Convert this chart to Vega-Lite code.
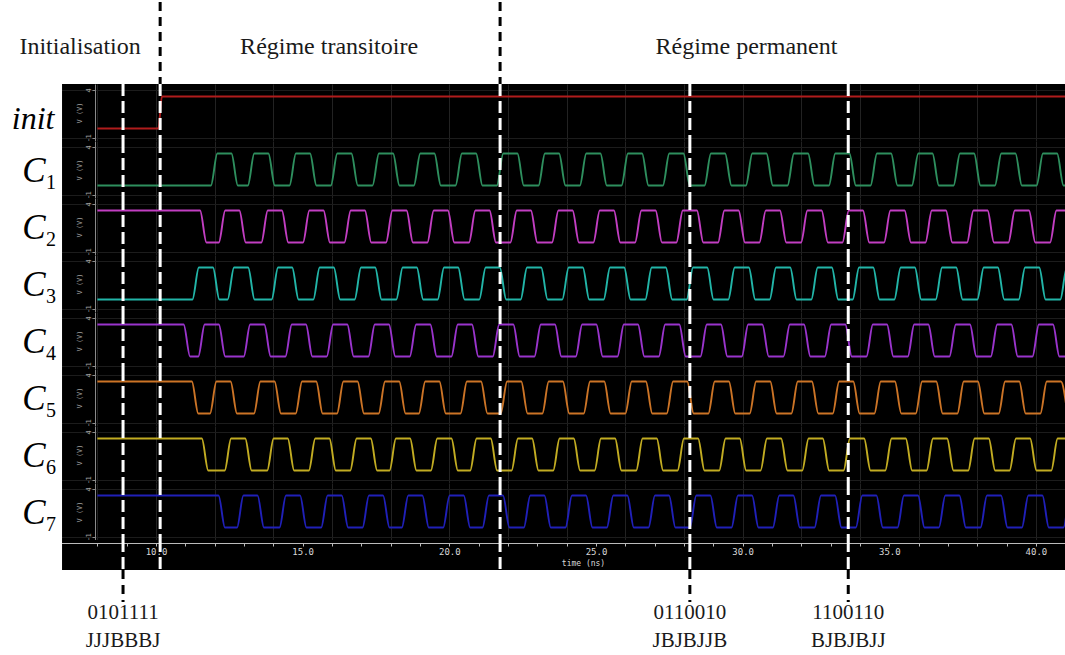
{
  "$schema": "https://vega.github.io/schema/vega-lite/v6.json",
  "padding": 0,
  "background": "white",
  "spacing": 0,
  "bounds": "flush",
  "config": {"view": {"stroke": null}, "font": "Liberation Serif, Times New Roman, serif"},
  "datasets": {
    "cuts": [{"t": 8.875}, {"t": 10.14}, {"t": 21.73}, {"t": 28.2}, {"t": 33.6}],
    "phases": [{"t": 10.14}, {"t": 21.73}],
    "regions": [{"label": "Initialisation", "t": 7.41}, {"label": "Régime transitoire", "t": 15.9}, {"label": "Régime permanent", "t": 30.13}],
    "codes": [{"t": 8.875, "code": "0101111", "tokens": "JJJBBBJ"}, {"t": 28.2, "code": "0110010", "tokens": "JBJBJJB"}, {"t": 33.6, "code": "1100110", "tokens": "BJBJBJJ"}]
  },
  "vconcat": [
    {
      "width": 1065, "height": 82,
      "layer": [
        {"data": {"name": "phases"}, "mark": {"type": "rule", "color": "black", "strokeWidth": 3, "strokeDash": [9, 6]},
         "encoding": {"x": {"field": "t", "type": "quantitative", "scale": {"domain": [4.68, 40.99], "nice": false, "zero": false}, "axis": null}}},
        {"data": {"name": "regions"}, "mark": {"type": "text", "font": "Liberation Serif, Times New Roman, serif", "fontSize": 24, "color": "#1a1a1a", "baseline": "alphabetic", "dy": 11},
         "encoding": {"x": {"field": "t", "type": "quantitative", "axis": null}, "text": {"field": "label"}}}
      ]
    },
    {
      "width": 1065, "height": 57, "view": {"fill": "black", "stroke": null},
      "layer": [
        {"data": {"values": [{}]}, "mark": {"type": "rect", "color": "white"},
         "encoding": {"x": {"datum": 4.68, "type": "quantitative"}, "x2": {"datum": 6.795}, "y": {"datum": 4.6, "type": "quantitative"}, "y2": {"datum": -1.3}}},
        {"data": {"values": "t,v\n8,0\n10.08,0\n10.2,3.3\n41.5,3.3", "format": {"type": "csv", "parse": {"t": "number", "v": "number"}}},
         "mark": {"type": "line", "color": "#b01c1c", "strokeWidth": 1.9, "interpolate": "monotone", "clip": true},
         "encoding": {
           "x": {"field": "t", "type": "quantitative", "title": null, "scale": {"domain": [4.68, 40.99], "nice": false, "zero": false}, "axis": {"values": [8,9,10,11,12,13,14,15,16,17,18,19,20,21,22,23,24,25,26,27,28,29,30,31,32,33,34,35,36,37,38,39,40], "grid": true, "gridColor": "#222222", "labels": false, "ticks": false, "domain": false, "title": null}},
           "y": {"field": "v", "type": "quantitative", "title": "V (V)", "scale": {"domain": [-1.3, 4.6], "nice": false, "zero": false}, "axis": {"orient": "left", "offset": -95, "values": [-1, 0, 1, 2, 3, 4], "grid": true, "gridColor": "#1c1c1c", "domainColor": "#8a8a8a", "tickColor": "#8a8a8a", "tickSize": 3, "labelColor": "#a0a0a0", "labelFontSize": 7, "labelFont": "DejaVu Sans Mono", "labelAngle": -90, "labelPadding": 1, "labelFlush": false, "labelOverlap": false, "title": "V (V)", "titleColor": "#a0a0a0", "titleFontSize": 7, "titleFont": "DejaVu Sans Mono", "titleFontWeight": "normal", "titlePadding": 2}}
         }},
        {"data": {"name": "cuts"}, "mark": {"type": "rule", "color": "white", "strokeWidth": 3, "strokeDash": [12, 5]},
         "encoding": {"x": {"field": "t", "type": "quantitative", "title": null}, "y": {"datum": 4.6}, "y2": {"datum": -1.3}}},
        {"data": {"values": [{"n": "init"}]}, "mark": {"type": "text", "font": "Liberation Serif, Times New Roman, serif", "fontStyle": "italic", "fontSize": 32, "baseline": "alphabetic", "dy": 16, "color": "black"},
         "encoding": {"x": {"datum": 5.81}, "text": {"field": "n"}}}
      ]
    },
    {
      "width": 1065, "height": 57, "view": {"fill": "black", "stroke": null},
      "layer": [
        {"data": {"values": [{}]}, "mark": {"type": "rect", "color": "white"},
         "encoding": {"x": {"datum": 4.68, "type": "quantitative"}, "x2": {"datum": 6.795}, "y": {"datum": 4.6, "type": "quantitative"}, "y2": {"datum": -1.3}}},
        {"data": {"values": "t,v\n8,0\n11.87,0\n12.09,3.3\n12.57,3.3\n12.79,0\n13.13,0\n13.35,3.3\n13.83,3.3\n14.05,0\n14.55,0\n14.77,3.3\n15.25,3.3\n15.47,0\n15.96,0\n16.18,3.3\n16.66,3.3\n16.88,0\n17.38,0\n17.6,3.3\n18.08,3.3\n18.3,0\n18.79,0\n19.01,3.3\n19.49,3.3\n19.71,0\n20.21,0\n20.43,3.3\n20.91,3.3\n21.13,0\n21.62,0\n21.84,3.3\n22.32,3.3\n22.54,0\n23.04,0\n23.26,3.3\n23.74,3.3\n23.96,0\n24.45,0\n24.67,3.3\n25.15,3.3\n25.37,0\n25.87,0\n26.09,3.3\n26.57,3.3\n26.79,0\n27.28,0\n27.5,3.3\n27.98,3.3\n28.2,0\n28.7,0\n28.92,3.3\n29.4,3.3\n29.62,0\n30.11,0\n30.33,3.3\n30.81,3.3\n31.03,0\n31.53,0\n31.75,3.3\n32.23,3.3\n32.45,0\n32.94,0\n33.16,3.3\n33.64,3.3\n33.86,0\n34.36,0\n34.58,3.3\n35.06,3.3\n35.28,0\n35.77,0\n35.99,3.3\n36.47,3.3\n36.69,0\n37.19,0\n37.41,3.3\n37.89,3.3\n38.11,0\n38.6,0\n38.82,3.3\n39.3,3.3\n39.52,0\n40.02,0\n40.24,3.3\n40.72,3.3\n40.94,0\n41.5,0", "format": {"type": "csv", "parse": {"t": "number", "v": "number"}}},
         "mark": {"type": "line", "color": "#2e8f5e", "strokeWidth": 1.9, "interpolate": "monotone", "clip": true},
         "encoding": {
           "x": {"field": "t", "type": "quantitative", "title": null, "scale": {"domain": [4.68, 40.99], "nice": false, "zero": false}, "axis": {"values": [8,9,10,11,12,13,14,15,16,17,18,19,20,21,22,23,24,25,26,27,28,29,30,31,32,33,34,35,36,37,38,39,40], "grid": true, "gridColor": "#222222", "labels": false, "ticks": false, "domain": false, "title": null}},
           "y": {"field": "v", "type": "quantitative", "title": "V (V)", "scale": {"domain": [-1.3, 4.6], "nice": false, "zero": false}, "axis": {"orient": "left", "offset": -95, "values": [-1, 0, 1, 2, 3, 4], "grid": true, "gridColor": "#1c1c1c", "domainColor": "#8a8a8a", "tickColor": "#8a8a8a", "tickSize": 3, "labelColor": "#a0a0a0", "labelFontSize": 7, "labelFont": "DejaVu Sans Mono", "labelAngle": -90, "labelPadding": 1, "labelFlush": false, "labelOverlap": false, "title": "V (V)", "titleColor": "#a0a0a0", "titleFontSize": 7, "titleFont": "DejaVu Sans Mono", "titleFontWeight": "normal", "titlePadding": 2}}
         }},
        {"data": {"name": "cuts"}, "mark": {"type": "rule", "color": "white", "strokeWidth": 3, "strokeDash": [12, 5]},
         "encoding": {"x": {"field": "t", "type": "quantitative", "title": null}, "y": {"datum": 4.6}, "y2": {"datum": -1.3}}},
        {"data": {"values": [{"n": "C", "s": "1"}]}, "mark": {"type": "text", "font": "Liberation Serif, Times New Roman, serif", "fontStyle": "italic", "fontSize": 35, "baseline": "alphabetic", "dy": 12, "color": "black"},
         "encoding": {"x": {"datum": 5.84}, "text": {"field": "n"}}},
        {"data": {"values": [{"n": "C", "s": "1"}]}, "mark": {"type": "text", "font": "Liberation Serif, Times New Roman, serif", "fontSize": 20, "baseline": "alphabetic", "dy": 19, "color": "black"},
         "encoding": {"x": {"datum": 6.42}, "text": {"field": "s"}}}
      ]
    },
    {
      "width": 1065, "height": 57, "view": {"fill": "black", "stroke": null},
      "layer": [
        {"data": {"values": [{}]}, "mark": {"type": "rect", "color": "white"},
         "encoding": {"x": {"datum": 4.68, "type": "quantitative"}, "x2": {"datum": 6.795}, "y": {"datum": 4.6, "type": "quantitative"}, "y2": {"datum": -1.3}}},
        {"data": {"values": "t,v\n8,3.3\n11.5,3.3\n11.72,0\n12.14,0\n12.36,3.3\n12.84,3.3\n13.06,0\n13.59,0\n13.81,3.3\n14.29,3.3\n14.51,0\n15.01,0\n15.23,3.3\n15.71,3.3\n15.93,0\n16.42,0\n16.64,3.3\n17.12,3.3\n17.34,0\n17.84,0\n18.06,3.3\n18.54,3.3\n18.76,0\n19.25,0\n19.47,3.3\n19.95,3.3\n20.17,0\n20.67,0\n20.89,3.3\n21.37,3.3\n21.59,0\n22.08,0\n22.3,3.3\n22.78,3.3\n23,0\n23.5,0\n23.72,3.3\n24.2,3.3\n24.42,0\n24.91,0\n25.13,3.3\n25.61,3.3\n25.83,0\n26.33,0\n26.55,3.3\n27.03,3.3\n27.25,0\n27.74,0\n27.96,3.3\n28.44,3.3\n28.66,0\n29.16,0\n29.38,3.3\n29.86,3.3\n30.08,0\n30.57,0\n30.79,3.3\n31.27,3.3\n31.49,0\n31.99,0\n32.21,3.3\n32.69,3.3\n32.91,0\n33.4,0\n33.62,3.3\n34.1,3.3\n34.32,0\n34.82,0\n35.04,3.3\n35.52,3.3\n35.74,0\n36.23,0\n36.45,3.3\n36.93,3.3\n37.15,0\n37.65,0\n37.87,3.3\n38.35,3.3\n38.57,0\n39.06,0\n39.28,3.3\n39.76,3.3\n39.98,0\n40.48,0\n40.7,3.3\n41.18,3.3\n41.4,0", "format": {"type": "csv", "parse": {"t": "number", "v": "number"}}},
         "mark": {"type": "line", "color": "#c23ec2", "strokeWidth": 1.9, "interpolate": "monotone", "clip": true},
         "encoding": {
           "x": {"field": "t", "type": "quantitative", "title": null, "scale": {"domain": [4.68, 40.99], "nice": false, "zero": false}, "axis": {"values": [8,9,10,11,12,13,14,15,16,17,18,19,20,21,22,23,24,25,26,27,28,29,30,31,32,33,34,35,36,37,38,39,40], "grid": true, "gridColor": "#222222", "labels": false, "ticks": false, "domain": false, "title": null}},
           "y": {"field": "v", "type": "quantitative", "title": "V (V)", "scale": {"domain": [-1.3, 4.6], "nice": false, "zero": false}, "axis": {"orient": "left", "offset": -95, "values": [-1, 0, 1, 2, 3, 4], "grid": true, "gridColor": "#1c1c1c", "domainColor": "#8a8a8a", "tickColor": "#8a8a8a", "tickSize": 3, "labelColor": "#a0a0a0", "labelFontSize": 7, "labelFont": "DejaVu Sans Mono", "labelAngle": -90, "labelPadding": 1, "labelFlush": false, "labelOverlap": false, "title": "V (V)", "titleColor": "#a0a0a0", "titleFontSize": 7, "titleFont": "DejaVu Sans Mono", "titleFontWeight": "normal", "titlePadding": 2}}
         }},
        {"data": {"name": "cuts"}, "mark": {"type": "rule", "color": "white", "strokeWidth": 3, "strokeDash": [12, 5]},
         "encoding": {"x": {"field": "t", "type": "quantitative", "title": null}, "y": {"datum": 4.6}, "y2": {"datum": -1.3}}},
        {"data": {"values": [{"n": "C", "s": "2"}]}, "mark": {"type": "text", "font": "Liberation Serif, Times New Roman, serif", "fontStyle": "italic", "fontSize": 35, "baseline": "alphabetic", "dy": 12, "color": "black"},
         "encoding": {"x": {"datum": 5.84}, "text": {"field": "n"}}},
        {"data": {"values": [{"n": "C", "s": "2"}]}, "mark": {"type": "text", "font": "Liberation Serif, Times New Roman, serif", "fontSize": 20, "baseline": "alphabetic", "dy": 19, "color": "black"},
         "encoding": {"x": {"datum": 6.42}, "text": {"field": "s"}}}
      ]
    },
    {
      "width": 1065, "height": 57, "view": {"fill": "black", "stroke": null},
      "layer": [
        {"data": {"values": [{}]}, "mark": {"type": "rect", "color": "white"},
         "encoding": {"x": {"datum": 4.68, "type": "quantitative"}, "x2": {"datum": 6.795}, "y": {"datum": 4.6, "type": "quantitative"}, "y2": {"datum": -1.3}}},
        {"data": {"values": "t,v\n8,0\n11.24,0\n11.46,3.3\n11.94,3.3\n12.16,0\n12.44,0\n12.66,3.3\n13.14,3.3\n13.36,0\n13.94,0\n14.16,3.3\n14.64,3.3\n14.86,0\n15.36,0\n15.58,3.3\n16.06,3.3\n16.28,0\n16.77,0\n16.99,3.3\n17.47,3.3\n17.69,0\n18.19,0\n18.41,3.3\n18.89,3.3\n19.11,0\n19.6,0\n19.82,3.3\n20.3,3.3\n20.52,0\n21.02,0\n21.24,3.3\n21.72,3.3\n21.94,0\n22.43,0\n22.65,3.3\n23.13,3.3\n23.35,0\n23.85,0\n24.07,3.3\n24.55,3.3\n24.77,0\n25.26,0\n25.48,3.3\n25.96,3.3\n26.18,0\n26.68,0\n26.9,3.3\n27.38,3.3\n27.6,0\n28.09,0\n28.31,3.3\n28.79,3.3\n29.01,0\n29.51,0\n29.73,3.3\n30.21,3.3\n30.43,0\n30.92,0\n31.14,3.3\n31.62,3.3\n31.84,0\n32.34,0\n32.56,3.3\n33.04,3.3\n33.26,0\n33.75,0\n33.97,3.3\n34.45,3.3\n34.67,0\n35.17,0\n35.39,3.3\n35.87,3.3\n36.09,0\n36.58,0\n36.8,3.3\n37.28,3.3\n37.5,0\n38,0\n38.22,3.3\n38.7,3.3\n38.92,0\n39.41,0\n39.63,3.3\n40.11,3.3\n40.33,0\n40.83,0\n41.05,3.3\n41.53,3.3", "format": {"type": "csv", "parse": {"t": "number", "v": "number"}}},
         "mark": {"type": "line", "color": "#22b5a8", "strokeWidth": 1.9, "interpolate": "monotone", "clip": true},
         "encoding": {
           "x": {"field": "t", "type": "quantitative", "title": null, "scale": {"domain": [4.68, 40.99], "nice": false, "zero": false}, "axis": {"values": [8,9,10,11,12,13,14,15,16,17,18,19,20,21,22,23,24,25,26,27,28,29,30,31,32,33,34,35,36,37,38,39,40], "grid": true, "gridColor": "#222222", "labels": false, "ticks": false, "domain": false, "title": null}},
           "y": {"field": "v", "type": "quantitative", "title": "V (V)", "scale": {"domain": [-1.3, 4.6], "nice": false, "zero": false}, "axis": {"orient": "left", "offset": -95, "values": [-1, 0, 1, 2, 3, 4], "grid": true, "gridColor": "#1c1c1c", "domainColor": "#8a8a8a", "tickColor": "#8a8a8a", "tickSize": 3, "labelColor": "#a0a0a0", "labelFontSize": 7, "labelFont": "DejaVu Sans Mono", "labelAngle": -90, "labelPadding": 1, "labelFlush": false, "labelOverlap": false, "title": "V (V)", "titleColor": "#a0a0a0", "titleFontSize": 7, "titleFont": "DejaVu Sans Mono", "titleFontWeight": "normal", "titlePadding": 2}}
         }},
        {"data": {"name": "cuts"}, "mark": {"type": "rule", "color": "white", "strokeWidth": 3, "strokeDash": [12, 5]},
         "encoding": {"x": {"field": "t", "type": "quantitative", "title": null}, "y": {"datum": 4.6}, "y2": {"datum": -1.3}}},
        {"data": {"values": [{"n": "C", "s": "3"}]}, "mark": {"type": "text", "font": "Liberation Serif, Times New Roman, serif", "fontStyle": "italic", "fontSize": 35, "baseline": "alphabetic", "dy": 12, "color": "black"},
         "encoding": {"x": {"datum": 5.84}, "text": {"field": "n"}}},
        {"data": {"values": [{"n": "C", "s": "3"}]}, "mark": {"type": "text", "font": "Liberation Serif, Times New Roman, serif", "fontSize": 20, "baseline": "alphabetic", "dy": 19, "color": "black"},
         "encoding": {"x": {"datum": 6.42}, "text": {"field": "s"}}}
      ]
    },
    {
      "width": 1065, "height": 57, "view": {"fill": "black", "stroke": null},
      "layer": [
        {"data": {"values": [{}]}, "mark": {"type": "rect", "color": "white"},
         "encoding": {"x": {"datum": 4.68, "type": "quantitative"}, "x2": {"datum": 6.795}, "y": {"datum": 4.6, "type": "quantitative"}, "y2": {"datum": -1.3}}},
        {"data": {"values": "t,v\n8,3.3\n10.94,3.3\n11.16,0\n11.44,0\n11.66,3.3\n12.14,3.3\n12.36,0\n12.99,0\n13.21,3.3\n13.69,3.3\n13.91,0\n14.41,0\n14.63,3.3\n15.11,3.3\n15.33,0\n15.82,0\n16.04,3.3\n16.52,3.3\n16.74,0\n17.24,0\n17.46,3.3\n17.94,3.3\n18.16,0\n18.65,0\n18.87,3.3\n19.35,3.3\n19.57,0\n20.07,0\n20.29,3.3\n20.77,3.3\n20.99,0\n21.48,0\n21.7,3.3\n22.18,3.3\n22.4,0\n22.9,0\n23.12,3.3\n23.6,3.3\n23.82,0\n24.31,0\n24.53,3.3\n25.01,3.3\n25.23,0\n25.73,0\n25.95,3.3\n26.43,3.3\n26.65,0\n27.14,0\n27.36,3.3\n27.84,3.3\n28.06,0\n28.56,0\n28.78,3.3\n29.26,3.3\n29.48,0\n29.97,0\n30.19,3.3\n30.67,3.3\n30.89,0\n31.39,0\n31.61,3.3\n32.09,3.3\n32.31,0\n32.8,0\n33.02,3.3\n33.5,3.3\n33.72,0\n34.22,0\n34.44,3.3\n34.92,3.3\n35.14,0\n35.63,0\n35.85,3.3\n36.33,3.3\n36.55,0\n37.05,0\n37.27,3.3\n37.75,3.3\n37.97,0\n38.46,0\n38.68,3.3\n39.16,3.3\n39.38,0\n39.88,0\n40.1,3.3\n40.58,3.3\n40.8,0\n41.29,0\n41.51,3.3", "format": {"type": "csv", "parse": {"t": "number", "v": "number"}}},
         "mark": {"type": "line", "color": "#9a34cc", "strokeWidth": 1.9, "interpolate": "monotone", "clip": true},
         "encoding": {
           "x": {"field": "t", "type": "quantitative", "title": null, "scale": {"domain": [4.68, 40.99], "nice": false, "zero": false}, "axis": {"values": [8,9,10,11,12,13,14,15,16,17,18,19,20,21,22,23,24,25,26,27,28,29,30,31,32,33,34,35,36,37,38,39,40], "grid": true, "gridColor": "#222222", "labels": false, "ticks": false, "domain": false, "title": null}},
           "y": {"field": "v", "type": "quantitative", "title": "V (V)", "scale": {"domain": [-1.3, 4.6], "nice": false, "zero": false}, "axis": {"orient": "left", "offset": -95, "values": [-1, 0, 1, 2, 3, 4], "grid": true, "gridColor": "#1c1c1c", "domainColor": "#8a8a8a", "tickColor": "#8a8a8a", "tickSize": 3, "labelColor": "#a0a0a0", "labelFontSize": 7, "labelFont": "DejaVu Sans Mono", "labelAngle": -90, "labelPadding": 1, "labelFlush": false, "labelOverlap": false, "title": "V (V)", "titleColor": "#a0a0a0", "titleFontSize": 7, "titleFont": "DejaVu Sans Mono", "titleFontWeight": "normal", "titlePadding": 2}}
         }},
        {"data": {"name": "cuts"}, "mark": {"type": "rule", "color": "white", "strokeWidth": 3, "strokeDash": [12, 5]},
         "encoding": {"x": {"field": "t", "type": "quantitative", "title": null}, "y": {"datum": 4.6}, "y2": {"datum": -1.3}}},
        {"data": {"values": [{"n": "C", "s": "4"}]}, "mark": {"type": "text", "font": "Liberation Serif, Times New Roman, serif", "fontStyle": "italic", "fontSize": 35, "baseline": "alphabetic", "dy": 12, "color": "black"},
         "encoding": {"x": {"datum": 5.84}, "text": {"field": "n"}}},
        {"data": {"values": [{"n": "C", "s": "4"}]}, "mark": {"type": "text", "font": "Liberation Serif, Times New Roman, serif", "fontSize": 20, "baseline": "alphabetic", "dy": 19, "color": "black"},
         "encoding": {"x": {"datum": 6.42}, "text": {"field": "s"}}}
      ]
    },
    {
      "width": 1065, "height": 57, "view": {"fill": "black", "stroke": null},
      "layer": [
        {"data": {"values": [{}]}, "mark": {"type": "rect", "color": "white"},
         "encoding": {"x": {"datum": 4.68, "type": "quantitative"}, "x2": {"datum": 6.795}, "y": {"datum": 4.6, "type": "quantitative"}, "y2": {"datum": -1.3}}},
        {"data": {"values": "t,v\n8,3.3\n11.22,3.3\n11.44,0\n11.84,0\n12.06,3.3\n12.54,3.3\n12.76,0\n13.34,0\n13.56,3.3\n14.04,3.3\n14.26,0\n14.76,0\n14.98,3.3\n15.46,3.3\n15.68,0\n16.17,0\n16.39,3.3\n16.87,3.3\n17.09,0\n17.59,0\n17.81,3.3\n18.29,3.3\n18.51,0\n18.96,0\n19.18,3.3\n19.66,3.3\n19.88,0\n20.38,0\n20.6,3.3\n21.08,3.3\n21.3,0\n21.75,0\n21.97,3.3\n22.45,3.3\n22.67,0\n23.17,0\n23.39,3.3\n23.87,3.3\n24.09,0\n24.58,0\n24.8,3.3\n25.28,3.3\n25.5,0\n26,0\n26.22,3.3\n26.7,3.3\n26.92,0\n27.41,0\n27.63,3.3\n28.11,3.3\n28.33,0\n28.83,0\n29.05,3.3\n29.53,3.3\n29.75,0\n30.24,0\n30.46,3.3\n30.94,3.3\n31.16,0\n31.66,0\n31.88,3.3\n32.36,3.3\n32.58,0\n33.07,0\n33.29,3.3\n33.77,3.3\n33.99,0\n34.49,0\n34.71,3.3\n35.19,3.3\n35.41,0\n35.9,0\n36.12,3.3\n36.6,3.3\n36.82,0\n37.32,0\n37.54,3.3\n38.02,3.3\n38.24,0\n38.73,0\n38.95,3.3\n39.43,3.3\n39.65,0\n40.15,0\n40.37,3.3\n40.85,3.3\n41.07,0", "format": {"type": "csv", "parse": {"t": "number", "v": "number"}}},
         "mark": {"type": "line", "color": "#cc7426", "strokeWidth": 1.9, "interpolate": "monotone", "clip": true},
         "encoding": {
           "x": {"field": "t", "type": "quantitative", "title": null, "scale": {"domain": [4.68, 40.99], "nice": false, "zero": false}, "axis": {"values": [8,9,10,11,12,13,14,15,16,17,18,19,20,21,22,23,24,25,26,27,28,29,30,31,32,33,34,35,36,37,38,39,40], "grid": true, "gridColor": "#222222", "labels": false, "ticks": false, "domain": false, "title": null}},
           "y": {"field": "v", "type": "quantitative", "title": "V (V)", "scale": {"domain": [-1.3, 4.6], "nice": false, "zero": false}, "axis": {"orient": "left", "offset": -95, "values": [-1, 0, 1, 2, 3, 4], "grid": true, "gridColor": "#1c1c1c", "domainColor": "#8a8a8a", "tickColor": "#8a8a8a", "tickSize": 3, "labelColor": "#a0a0a0", "labelFontSize": 7, "labelFont": "DejaVu Sans Mono", "labelAngle": -90, "labelPadding": 1, "labelFlush": false, "labelOverlap": false, "title": "V (V)", "titleColor": "#a0a0a0", "titleFontSize": 7, "titleFont": "DejaVu Sans Mono", "titleFontWeight": "normal", "titlePadding": 2}}
         }},
        {"data": {"name": "cuts"}, "mark": {"type": "rule", "color": "white", "strokeWidth": 3, "strokeDash": [12, 5]},
         "encoding": {"x": {"field": "t", "type": "quantitative", "title": null}, "y": {"datum": 4.6}, "y2": {"datum": -1.3}}},
        {"data": {"values": [{"n": "C", "s": "5"}]}, "mark": {"type": "text", "font": "Liberation Serif, Times New Roman, serif", "fontStyle": "italic", "fontSize": 35, "baseline": "alphabetic", "dy": 12, "color": "black"},
         "encoding": {"x": {"datum": 5.84}, "text": {"field": "n"}}},
        {"data": {"values": [{"n": "C", "s": "5"}]}, "mark": {"type": "text", "font": "Liberation Serif, Times New Roman, serif", "fontSize": 20, "baseline": "alphabetic", "dy": 19, "color": "black"},
         "encoding": {"x": {"datum": 6.42}, "text": {"field": "s"}}}
      ]
    },
    {
      "width": 1065, "height": 57, "view": {"fill": "black", "stroke": null},
      "layer": [
        {"data": {"values": [{}]}, "mark": {"type": "rect", "color": "white"},
         "encoding": {"x": {"datum": 4.68, "type": "quantitative"}, "x2": {"datum": 6.795}, "y": {"datum": 4.6, "type": "quantitative"}, "y2": {"datum": -1.3}}},
        {"data": {"values": "t,v\n8,3.3\n11.56,3.3\n11.78,0\n12.34,0\n12.56,3.3\n13.04,3.3\n13.26,0\n13.79,0\n14.01,3.3\n14.49,3.3\n14.71,0\n15.21,0\n15.43,3.3\n15.91,3.3\n16.13,0\n16.62,0\n16.84,3.3\n17.32,3.3\n17.54,0\n17.96,0\n18.18,3.3\n18.66,3.3\n18.88,0\n19.37,0\n19.59,3.3\n20.07,3.3\n20.29,0\n20.71,0\n20.93,3.3\n21.41,3.3\n21.63,0\n22.12,0\n22.34,3.3\n22.82,3.3\n23.04,0\n23.54,0\n23.76,3.3\n24.24,3.3\n24.46,0\n24.95,0\n25.17,3.3\n25.65,3.3\n25.87,0\n26.37,0\n26.59,3.3\n27.07,3.3\n27.29,0\n27.78,0\n28,3.3\n28.48,3.3\n28.7,0\n29.2,0\n29.42,3.3\n29.9,3.3\n30.12,0\n30.61,0\n30.83,3.3\n31.31,3.3\n31.53,0\n32.03,0\n32.25,3.3\n32.73,3.3\n32.95,0\n33.44,0\n33.66,3.3\n34.14,3.3\n34.36,0\n34.86,0\n35.08,3.3\n35.56,3.3\n35.78,0\n36.27,0\n36.49,3.3\n36.97,3.3\n37.19,0\n37.69,0\n37.91,3.3\n38.39,3.3\n38.61,0\n39.1,0\n39.32,3.3\n39.8,3.3\n40.02,0\n40.52,0\n40.74,3.3\n41.22,3.3\n41.44,0", "format": {"type": "csv", "parse": {"t": "number", "v": "number"}}},
         "mark": {"type": "line", "color": "#c2ac22", "strokeWidth": 1.9, "interpolate": "monotone", "clip": true},
         "encoding": {
           "x": {"field": "t", "type": "quantitative", "title": null, "scale": {"domain": [4.68, 40.99], "nice": false, "zero": false}, "axis": {"values": [8,9,10,11,12,13,14,15,16,17,18,19,20,21,22,23,24,25,26,27,28,29,30,31,32,33,34,35,36,37,38,39,40], "grid": true, "gridColor": "#222222", "labels": false, "ticks": false, "domain": false, "title": null}},
           "y": {"field": "v", "type": "quantitative", "title": "V (V)", "scale": {"domain": [-1.3, 4.6], "nice": false, "zero": false}, "axis": {"orient": "left", "offset": -95, "values": [-1, 0, 1, 2, 3, 4], "grid": true, "gridColor": "#1c1c1c", "domainColor": "#8a8a8a", "tickColor": "#8a8a8a", "tickSize": 3, "labelColor": "#a0a0a0", "labelFontSize": 7, "labelFont": "DejaVu Sans Mono", "labelAngle": -90, "labelPadding": 1, "labelFlush": false, "labelOverlap": false, "title": "V (V)", "titleColor": "#a0a0a0", "titleFontSize": 7, "titleFont": "DejaVu Sans Mono", "titleFontWeight": "normal", "titlePadding": 2}}
         }},
        {"data": {"name": "cuts"}, "mark": {"type": "rule", "color": "white", "strokeWidth": 3, "strokeDash": [12, 5]},
         "encoding": {"x": {"field": "t", "type": "quantitative", "title": null}, "y": {"datum": 4.6}, "y2": {"datum": -1.3}}},
        {"data": {"values": [{"n": "C", "s": "6"}]}, "mark": {"type": "text", "font": "Liberation Serif, Times New Roman, serif", "fontStyle": "italic", "fontSize": 35, "baseline": "alphabetic", "dy": 12, "color": "black"},
         "encoding": {"x": {"datum": 5.84}, "text": {"field": "n"}}},
        {"data": {"values": [{"n": "C", "s": "6"}]}, "mark": {"type": "text", "font": "Liberation Serif, Times New Roman, serif", "fontSize": 20, "baseline": "alphabetic", "dy": 19, "color": "black"},
         "encoding": {"x": {"datum": 6.42}, "text": {"field": "s"}}}
      ]
    },
    {
      "width": 1065, "height": 57, "view": {"fill": "black", "stroke": null},
      "layer": [
        {"data": {"values": [{}]}, "mark": {"type": "rect", "color": "white"},
         "encoding": {"x": {"datum": 4.68, "type": "quantitative"}, "x2": {"datum": 6.795}, "y": {"datum": 4.6, "type": "quantitative"}, "y2": {"datum": -1.3}}},
        {"data": {"values": "t,v\n8,3.3\n12.13,3.3\n12.35,0\n12.76,0\n12.98,3.3\n13.46,3.3\n13.68,0\n14.21,0\n14.43,3.3\n14.91,3.3\n15.13,0\n15.63,0\n15.85,3.3\n16.33,3.3\n16.55,0\n17.04,0\n17.26,3.3\n17.74,3.3\n17.96,0\n18.38,0\n18.6,3.3\n19.08,3.3\n19.3,0\n19.79,0\n20.01,3.3\n20.49,3.3\n20.71,0\n21.13,0\n21.35,3.3\n21.83,3.3\n22.05,0\n22.54,0\n22.76,3.3\n23.24,3.3\n23.46,0\n23.96,0\n24.18,3.3\n24.66,3.3\n24.88,0\n25.37,0\n25.59,3.3\n26.07,3.3\n26.29,0\n26.79,0\n27.01,3.3\n27.49,3.3\n27.71,0\n28.2,0\n28.42,3.3\n28.9,3.3\n29.12,0\n29.62,0\n29.84,3.3\n30.32,3.3\n30.54,0\n31.03,0\n31.25,3.3\n31.73,3.3\n31.95,0\n32.45,0\n32.67,3.3\n33.15,3.3\n33.37,0\n33.86,0\n34.08,3.3\n34.56,3.3\n34.78,0\n35.28,0\n35.5,3.3\n35.98,3.3\n36.2,0\n36.69,0\n36.91,3.3\n37.39,3.3\n37.61,0\n38.11,0\n38.33,3.3\n38.81,3.3\n39.03,0\n39.52,0\n39.74,3.3\n40.22,3.3\n40.44,0\n40.94,0\n41.16,3.3\n41.64,3.3\n41.86,0", "format": {"type": "csv", "parse": {"t": "number", "v": "number"}}},
         "mark": {"type": "line", "color": "#2020b8", "strokeWidth": 1.9, "interpolate": "monotone", "clip": true},
         "encoding": {
           "x": {"field": "t", "type": "quantitative", "title": null, "scale": {"domain": [4.68, 40.99], "nice": false, "zero": false}, "axis": {"values": [8,9,10,11,12,13,14,15,16,17,18,19,20,21,22,23,24,25,26,27,28,29,30,31,32,33,34,35,36,37,38,39,40], "grid": true, "gridColor": "#222222", "labels": false, "ticks": false, "domain": false, "title": null}},
           "y": {"field": "v", "type": "quantitative", "title": "V (V)", "scale": {"domain": [-1.3, 4.6], "nice": false, "zero": false}, "axis": {"orient": "left", "offset": -95, "values": [-1, 0, 1, 2, 3, 4], "grid": true, "gridColor": "#1c1c1c", "domainColor": "#8a8a8a", "tickColor": "#8a8a8a", "tickSize": 3, "labelColor": "#a0a0a0", "labelFontSize": 7, "labelFont": "DejaVu Sans Mono", "labelAngle": -90, "labelPadding": 1, "labelFlush": false, "labelOverlap": false, "title": "V (V)", "titleColor": "#a0a0a0", "titleFontSize": 7, "titleFont": "DejaVu Sans Mono", "titleFontWeight": "normal", "titlePadding": 2}}
         }},
        {"data": {"name": "cuts"}, "mark": {"type": "rule", "color": "white", "strokeWidth": 3, "strokeDash": [12, 5]},
         "encoding": {"x": {"field": "t", "type": "quantitative", "title": null}, "y": {"datum": 4.6}, "y2": {"datum": -1.3}}},
        {"data": {"values": [{"n": "C", "s": "7"}]}, "mark": {"type": "text", "font": "Liberation Serif, Times New Roman, serif", "fontStyle": "italic", "fontSize": 35, "baseline": "alphabetic", "dy": 12, "color": "black"},
         "encoding": {"x": {"datum": 5.84}, "text": {"field": "n"}}},
        {"data": {"values": [{"n": "C", "s": "7"}]}, "mark": {"type": "text", "font": "Liberation Serif, Times New Roman, serif", "fontSize": 20, "baseline": "alphabetic", "dy": 19, "color": "black"},
         "encoding": {"x": {"datum": 6.42}, "text": {"field": "s"}}}
      ]
    },
    {
      "width": 1065, "height": 30, "view": {"fill": "black", "stroke": null},
      "layer": [
        {"data": {"values": [{}]}, "mark": {"type": "rect", "color": "white"},
         "encoding": {"x": {"datum": 4.68, "type": "quantitative", "scale": {"domain": [4.68, 40.99], "nice": false, "zero": false},
           "axis": {"orient": "bottom", "offset": -27, "values": [8,9,10,11,12,13,14,15,16,17,18,19,20,21,22,23,24,25,26,27,28,29,30,31,32,33,34,35,36,37,38,39,40], "labelExpr": "datum.value % 5 === 0 ? format(datum.value, '.1f') : ''", "labelFont": "DejaVu Sans Mono", "labelFontSize": 9, "labelColor": "#d8d8d8", "labelPadding": 1, "labelFlush": false, "labelOverlap": false, "labelBound": false, "tickColor": "#bbbbbb", "tickSize": 3, "domainColor": "#bbbbbb", "grid": false, "title": "time (ns)", "titleFont": "DejaVu Sans Mono", "titleFontSize": 8, "titleFontWeight": "normal", "titleColor": "#d8d8d8", "titleX": 583, "titleY": 20, "titleBaseline": "middle"}},
           "x2": {"datum": 6.795}}},
        {"data": {"name": "cuts"}, "mark": {"type": "rule", "color": "white", "strokeWidth": 3, "strokeDash": [12, 5]},
         "encoding": {"x": {"field": "t", "type": "quantitative", "title": "time (ns)",
           "axis": {"orient": "bottom", "offset": -27, "values": [8,9,10,11,12,13,14,15,16,17,18,19,20,21,22,23,24,25,26,27,28,29,30,31,32,33,34,35,36,37,38,39,40], "labelExpr": "datum.value % 5 === 0 ? format(datum.value, '.1f') : ''", "labelFont": "DejaVu Sans Mono", "labelFontSize": 9, "labelColor": "#d8d8d8", "labelPadding": 1, "labelFlush": false, "labelOverlap": false, "labelBound": false, "tickColor": "#bbbbbb", "tickSize": 3, "domainColor": "#bbbbbb", "grid": false, "title": "time (ns)", "titleFont": "DejaVu Sans Mono", "titleFontSize": 8, "titleFontWeight": "normal", "titleColor": "#d8d8d8", "titleX": 583, "titleY": 20, "titleBaseline": "middle"}}}}
      ]
    },
    {
      "width": 1065, "height": 32,
      "layer": [
        {"data": {"name": "codes"}, "mark": {"type": "rule", "color": "black", "strokeWidth": 3, "strokeDash": [9, 6]},
         "encoding": {"x": {"field": "t", "type": "quantitative", "scale": {"domain": [4.68, 40.99], "nice": false, "zero": false}, "axis": null}}}
      ]
    },
    {
      "width": 1065, "height": 55,
      "layer": [
        {"data": {"name": "codes"}, "mark": {"type": "text", "font": "Liberation Serif, Times New Roman, serif", "fontSize": 21, "color": "#1a1a1a", "baseline": "alphabetic", "dy": -11},
         "encoding": {"x": {"field": "t", "type": "quantitative", "scale": {"domain": [4.68, 40.99], "nice": false, "zero": false}, "axis": null}, "text": {"field": "code"}}},
        {"data": {"name": "codes"}, "mark": {"type": "text", "font": "Liberation Serif, Times New Roman, serif", "fontSize": 21, "color": "#1a1a1a", "baseline": "alphabetic", "dy": 17},
         "encoding": {"x": {"field": "t", "type": "quantitative", "axis": null}, "text": {"field": "tokens"}}}
      ]
    }
  ]
}
